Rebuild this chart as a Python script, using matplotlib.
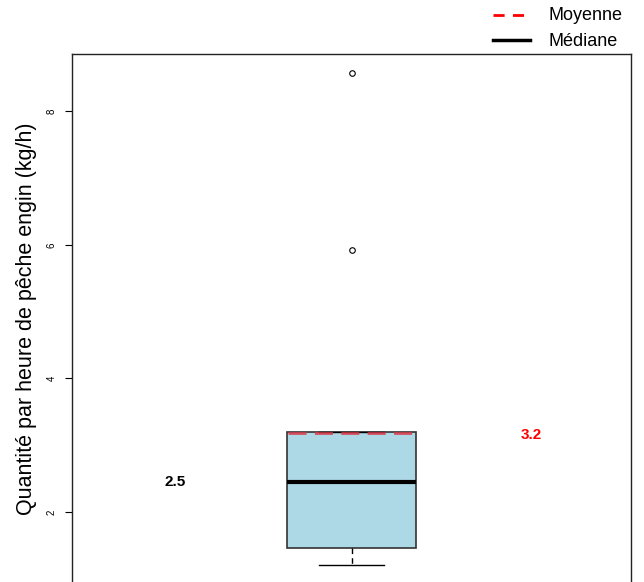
import matplotlib
matplotlib.use("Agg")
import matplotlib.pyplot as plt
from matplotlib.lines import Line2D

plt.rcParams['font.family'] = ['Liberation Sans', 'DejaVu Sans']

# Data
q1 = 1.46
median = 2.45
q3 = 3.20
whisker_low = 1.21
whisker_high = 3.20
outliers = [5.92, 8.57]
mean_val = 3.18
median_label = "2.5"
mean_label = "3.2"
yticks = [2, 4, 6, 8]
ylabel = "Quantité par heure de pêche engin (kg/h)"
legend_labels = ["Moyenne", "Médiane"]

W, H = 644, 582
fig = plt.figure(figsize=(W/100, H/100), dpi=100)
ax = fig.add_axes([72/W, -2/H, 559/W, (584-54)/H])

stats = [dict(med=median, q1=q1, q3=q3, whislo=whisker_low, whishi=whisker_high,
              fliers=outliers, label="")]
ax.bxp(stats, positions=[1], widths=0.23, patch_artist=True, showcaps=True,
       boxprops=dict(facecolor='#ADD8E6', edgecolor='#333333', linewidth=1.2),
       medianprops=dict(color='black', linewidth=3),
       whiskerprops=dict(color='black', linestyle=(0, (4, 3)), linewidth=1),
       capprops=dict(color='black', linewidth=1),
       flierprops=dict(marker='o', markersize=4, markerfacecolor='none',
                       markeredgecolor='black', markeredgewidth=0.8),
       capwidths=0.115)
ax.hlines(mean_val, 1 - 0.113, 1 + 0.113, colors='#D83848', linestyles=(0, (6.5, 3)),
          linewidth=2, alpha=0.85, zorder=5)

ax.text(0.684, median, median_label, fontsize=11, fontweight='bold', color='black',
        ha='center', va='center')
ax.text(1.321, 3.15, mean_label, fontsize=11, fontweight='bold', color='#FF0000',
        ha='center', va='center')

ax.set_xlim(0.5, 1.5)
ax.set_ylim(0.92, 8.86)
ax.set_xticks([])
ax.set_yticks(yticks)
ax.set_yticklabels([str(t) for t in yticks], rotation=90, fontsize=7, va='center')
ax.tick_params(axis='y', length=5, width=0.8, pad=6)
ax.set_ylabel(ylabel, fontsize=15.5, labelpad=7)
for s in ax.spines.values():
    s.set_linewidth(1)
    s.set_color('#222222')

# Legend outside the plot, top right (figure pixel coordinates)
def fx(px):
    return px / W
def fy(py):
    return 1 - py / H
fig.add_artist(Line2D([fx(493), fx(529)], [fy(15), fy(15)], color='#FF0000',
                      linestyle=(0, (4, 3)), linewidth=2))
fig.add_artist(Line2D([fx(493), fx(530)], [fy(40), fy(40)], color='black',
                      linewidth=2.5))
fig.text(fx(548), fy(16), legend_labels[0], fontsize=13, va='center', ha='left')
fig.text(fx(548), fy(41), legend_labels[1], fontsize=13, va='center', ha='left')

fig.savefig("out.png", dpi=100)
